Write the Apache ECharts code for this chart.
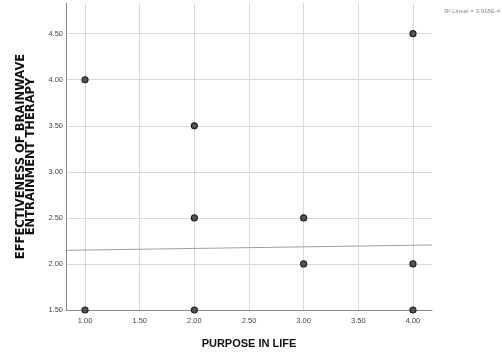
<!DOCTYPE html>
<html>
<head>
<meta charset="utf-8">
<script src="https://cdn.jsdelivr.net/npm/echarts@6/dist/echarts.min.js"></script>
<style>html,body{margin:0;padding:0;background:#fff}#c{width:502px;height:354px}</style>
</head>
<body>
<div id="c"></div>
<script>
// Data
var purposeInLife = [1, 1, 2, 2, 2, 3, 3, 4, 4, 4];
var effectiveness = [4.0, 1.5, 3.5, 2.5, 1.5, 2.5, 2.0, 4.5, 2.0, 1.5];
var xTicks = [1.0, 1.5, 2.0, 2.5, 3.0, 3.5, 4.0];
var yTicks = [1.5, 2.0, 2.5, 3.0, 3.5, 4.0, 4.5];
var fitX = [0.826, 4.174];
var fitY = [2.148, 2.206];
var r2Text = 'R\u00b2 Linear = 3.918E-4';
var xTitle = 'PURPOSE IN LIFE';
var yTitle = 'EFFECTIVENESS OF BRAINWAVE\nENTRAINMENT THERAPY';

var points = purposeInLife.map(function (x, i) { return [x, effectiveness[i]]; });
var fitLine = fitX.map(function (x, i) { return [x, fitY[i]]; });
var gridStyle = { color: '#d9d9d9', width: 1, type: 'solid' };
var gridMarks = xTicks.map(function (v) { return { xAxis: v }; })
  .concat(yTicks.filter(function (v) { return v !== 1.5; }).map(function (v) { return { yAxis: v }; }));

var chart = echarts.init(document.getElementById('c'), null, { renderer: 'canvas' });
chart.setOption({
  animation: false,
  textStyle: { fontFamily: 'Liberation Sans, Arial, sans-serif' },
  grid: { left: 66, right: 70, top: 3, bottom: 41, containLabel: false },
  xAxis: {
    type: 'value', min: 0.826, max: 4.174,
    name: xTitle, nameLocation: 'middle', nameGap: 28,
    nameTextStyle: { fontSize: 11, fontWeight: 'bold', color: '#111' },
    axisLine: { show: true, lineStyle: { color: '#8a8a8a', width: 1 } },
    axisTick: { show: false },
    splitLine: { show: false },
    axisLabel: {
      customValues: xTicks, fontSize: 7.5, color: '#444', margin: 7,
      formatter: function (v) { return v.toFixed(2); }
    }
  },
  yAxis: {
    type: 'value', min: 1.5, max: 4.833,
    name: yTitle, nameLocation: 'middle', nameGap: 28, nameRotate: 90,
    nameTextStyle: { fontFamily: 'DejaVu Sans', fontSize: 11.5, fontWeight: 'bold', color: '#111', lineHeight: 10.5, align: 'center' },
    axisLine: { show: true, lineStyle: { color: '#8a8a8a', width: 1 } },
    axisTick: { show: false },
    splitLine: { show: false },
    axisLabel: {
      customValues: yTicks, fontSize: 7.5, color: '#444', margin: 3,
      formatter: function (v) { return v.toFixed(2); }
    }
  },
  graphic: [{
    type: 'text', right: 2, top: 8,
    style: { text: r2Text, fontSize: 6, fill: '#888', fontFamily: 'Liberation Sans, Arial, sans-serif' }
  }],
  series: [
    {
      type: 'line', data: [], silent: true, z: 0,
      markLine: { silent: true, symbol: 'none', z: 0, label: { show: false }, lineStyle: gridStyle, data: gridMarks, animation: false }
    },
    {
      type: 'line', data: fitLine, symbol: 'none', silent: true, z: 1,
      lineStyle: { color: '#a0a0a0', width: 1 }
    },
    {
      type: 'scatter', data: points, symbolSize: 6, z: 5,
      itemStyle: { color: '#555', borderColor: '#222', borderWidth: 1.2, opacity: 1 }
    }
  ]
});
</script>
</body>
</html>
